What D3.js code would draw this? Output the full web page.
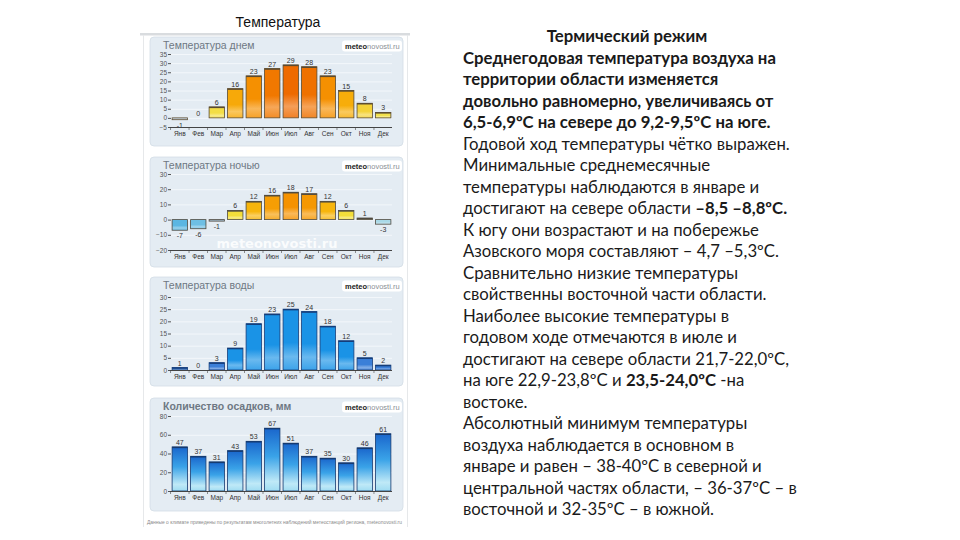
<!DOCTYPE html>
<html><head><meta charset="utf-8">
<script src="https://cdn.jsdelivr.net/npm/d3@7"></script>
<style>body{margin:0;background:#fff}svg{display:block}</style>
</head><body>
<script>
// ---------- DATA ----------
const months = ["Янв","Фев","Мар","Апр","Май","Июн","Июл","Авг","Сен","Окт","Ноя","Дек"];
const dayTemp   = [-1, 0, 6, 16, 23, 27, 29, 28, 23, 15, 8, 3];
const nightTemp = [-7, -6, -1, 6, 12, 16, 18, 17, 12, 6, 1, -3];
const waterTemp = [1, 0, 3, 9, 19, 23, 25, 24, 18, 12, 5, 2];
const precip    = [47, 37, 31, 43, 53, 67, 51, 37, 35, 30, 46, 61];
const dayTicks   = [-5, 0, 5, 10, 15, 20, 25, 30, 35];
const nightTicks = [-20, -10, 0, 10, 20, 30];
const waterTicks = [0, 5, 10, 15, 20, 25, 30];
const precipTicks = [0, 20, 40, 60, 80];
const panelTitles = ["Температура днем","Температура ночью","Температура воды","Количество осадков, мм"];
const leftHeading = "Температура";
const captionText = "Данные о климате приведены по результатам многолетних наблюдений метеостанций региона, meteonovosti.ru";
const textLines = [
 [["Термический режим",1]],
 [["Среднегодовая температура воздуха на",1]],
 [["территории области изменяется",1]],
 [["довольно равномерно, увеличиваясь от",1]],
 [["6,5-6,9ºС на севере до 9,2-9,5ºС на юге.",1]],
 [["Годовой ход температуры чётко выражен.",0]],
 [["Минимальные среднемесячные",0]],
 [["температуры наблюдаются в январе и",0]],
 [["достигают на севере области ",0],["–8,5 –8,8ºС.",1]],
 [["К югу они возрастают и на побережье",0]],
 [["Азовского моря составляют – 4,7 –5,3ºС.",0]],
 [["Сравнительно низкие температуры",0]],
 [["свойственны восточной части области.",0]],
 [["Наиболее высокие температуры в",0]],
 [["годовом ходе отмечаются в июле и",0]],
 [["достигают на севере области 21,7-22,0ºС,",0]],
 [["на юге 22,9-23,8ºС и ",0],["23,5-24,0ºС",1],[" -на",0]],
 [["востоке.",0]],
 [["Абсолютный минимум температуры",0]],
 [["воздуха наблюдается в основном в",0]],
 [["январе и равен – 38-40ºС в северной и",0]],
 [["центральной частях области, – 36-37ºС – в",0]],
 [["восточной и 32-35ºС – в южной.",0]]
];

// ---------- SETUP ----------
const W = 960, H = 540;
const svg = d3.select("body").append("svg").attr("width", W).attr("height", H);
svg.append("rect").attr("width", W).attr("height", H).attr("fill", "#fff");
const defs = svg.append("defs");

// left image frame
svg.append("text").attr("x", 278).attr("y", 27).attr("text-anchor", "middle")
  .attr("font-family", "Liberation Sans, Arial, sans-serif").attr("font-size", 14)
  .attr("fill", "#111").text(leftHeading);
svg.append("rect").attr("x", 140).attr("y", 33).attr("width", 270).attr("height", 2.5).attr("fill", "#d9dcdf");
svg.append("line").attr("x1", 143.5).attr("x2", 143.5).attr("y1", 35).attr("y2", 527).attr("stroke", "#e6e8ea");
svg.append("line").attr("x1", 407.5).attr("x2", 407.5).attr("y1", 35).attr("y2", 527).attr("stroke", "#e6e8ea");

const dayColor = d3.scaleLinear().domain([5, 15, 24, 29]).range(["#f3e24c", "#f7ad0a", "#f58c00", "#ee6a00"]).clamp(true);
const nightPos = d3.scaleLinear().domain([1, 6, 12, 18]).range(["#f1e9a0", "#f3de3a", "#f7b50c", "#f59200"]).clamp(true);
const nightNeg = d3.scaleLinear().domain([-1, -3, -7]).range(["#9fb9cc", "#a9d9e8", "#5ab6e2"]).clamp(true);
const waterColor = d => d <= 6 ? "#3b7fd8" : "#1a93e6";
const precipColor = () => "#1f78d8";

let gid = 0;
function panel(cfg) {
  const g = svg.append("g");
  g.append("rect").attr("x", 150).attr("y", cfg.top).attr("width", 253).attr("height", cfg.bottom - cfg.top)
    .attr("rx", 4).attr("fill", "#e4ecf3").attr("stroke", "#d3dde6").attr("stroke-width", 0.8);
  // title
  g.append("text").attr("x", 163).attr("y", cfg.top + 12).attr("font-family", "Liberation Sans, Arial, sans-serif")
    .attr("font-size", 10.5).attr("fill", "#6e7883").attr("font-weight", cfg.boldTitle ? "bold" : "normal").text(cfg.title);
  // logo
  g.append("rect").attr("x", 342).attr("y", cfg.top + 3.5).attr("width", 60).attr("height", 11).attr("rx", 3).attr("fill", "#fff");
  const lt = g.append("text").attr("x", 345).attr("y", cfg.top + 11.5).attr("font-family", "Liberation Sans, Arial, sans-serif").attr("font-size", 7.5);
  lt.append("tspan").attr("font-weight", "bold").attr("fill", "#222").text("meteo");
  lt.append("tspan").attr("fill", "#8a8f95").text("novosti.ru");

  const x = d3.scaleBand().domain(months).range([171, 392]).paddingInner(0.17).paddingOuter(0.06);
  const y = d3.scaleLinear().domain(cfg.domain).range([cfg.yBottom, cfg.yTop]);

  // grid
  g.selectAll("line.grid").data(cfg.ticks).join("line").attr("class", "grid")
    .attr("x1", 171).attr("x2", 392).attr("y1", d => y(d) + 0.5).attr("y2", d => y(d) + 0.5)
    .attr("stroke", "#f3f7fb").attr("stroke-width", 1);

  // watermark
  if (cfg.watermark) {
    g.append("text").attr("x", 277).attr("y", cfg.watermark).attr("text-anchor", "middle")
      .attr("font-family", "DejaVu Sans, sans-serif").attr("font-weight", "bold").attr("font-size", 13)
      .attr("fill", "#ffffff").attr("opacity", cfg.wmOpacity || 0.85).text("meteonovosti.ru");
  }

  // y axis
  const ax = g.append("g").attr("transform", "translate(171,0)")
    .call(d3.axisLeft(y).tickValues(cfg.ticks).tickSize(3).tickPadding(1));
  ax.select(".domain").remove();
  ax.selectAll("line").attr("stroke", "#555");
  ax.selectAll("text").attr("font-family", "Liberation Sans, Arial, sans-serif").attr("font-size", 6.5).attr("fill", "#555");

  // bars
  const data = cfg.values.map((v, i) => ({ m: months[i], v }));
  data.forEach(d => {
    const col = cfg.color(d.v);
    const id = "g" + (gid++);
    const lg = defs.append("linearGradient").attr("id", id).attr("x1", 0).attr("x2", 0).attr("y1", 0).attr("y2", 1);
    if (cfg.precipStyle) {
      lg.append("stop").attr("offset", "0%").attr("stop-color", "#1a66cc");
      lg.append("stop").attr("offset", "45%").attr("stop-color", "#3aa3e8");
      lg.append("stop").attr("offset", "85%").attr("stop-color", "#bfe9f7");
      lg.append("stop").attr("offset", "100%").attr("stop-color", "#9fdcf2");
    } else {
      lg.append("stop").attr("offset", "0%").attr("stop-color", col);
      lg.append("stop").attr("offset", "55%").attr("stop-color", col);
      lg.append("stop").attr("offset", "78%").attr("stop-color", d3.interpolateRgb(col, "#fff")(0.35));
      lg.append("stop").attr("offset", "100%").attr("stop-color", d3.interpolateRgb(col, "#fff")(0.15));
    }
    d.fill = "url(#" + id + ")";
  });
  g.selectAll("rect.bar").data(data.filter(d => d.v !== 0)).join("rect").attr("class", "bar")
    .attr("x", d => x(d.m)).attr("width", x.bandwidth())
    .attr("y", d => Math.min(y(d.v), y(0)))
    .attr("height", d => Math.max(1.5, Math.abs(y(d.v) - y(0))))
    .attr("fill", d => d.fill).attr("stroke", cfg.stroke).attr("stroke-width", 0.8);
  // top edge highlight
  g.selectAll("line.top").data(data.filter(d => d.v > 0)).join("line").attr("class", "top")
    .attr("x1", d => x(d.m)).attr("x2", d => x(d.m) + x.bandwidth())
    .attr("y1", d => y(d.v) + 0.5).attr("y2", d => y(d.v) + 0.5)
    .attr("stroke", cfg.stroke).attr("stroke-width", 1.4);

  // value labels
  g.selectAll("text.val").data(data).join("text").attr("class", "val")
    .attr("x", d => x(d.m) + x.bandwidth() / 2)
    .attr("y", d => d.v < 0 ? y(d.v) + 8 : y(d.v) - 2)
    .attr("text-anchor", "middle").attr("font-family", "Liberation Sans, Arial, sans-serif")
    .attr("font-size", 7).attr("fill", "#333").text(d => d.v);

  // x axis line
  g.append("line").attr("x1", 170).attr("x2", 392).attr("y1", cfg.yBottom + 0.5).attr("y2", cfg.yBottom + 0.5)
    .attr("stroke", "#444").attr("stroke-width", 1.2);
  g.selectAll("line.xt").data(months).join("line").attr("class", "xt")
    .attr("x1", d => x(d) - x.step() * x.paddingInner() / 2).attr("x2", d => x(d) - x.step() * x.paddingInner() / 2)
    .attr("y1", cfg.yBottom).attr("y2", cfg.yBottom + 3).attr("stroke", "#444").attr("stroke-width", 0.6);
  g.selectAll("text.mon").data(months).join("text").attr("class", "mon")
    .attr("x", d => x(d) + x.bandwidth() / 2).attr("y", cfg.yBottom + 9)
    .attr("text-anchor", "middle").attr("font-family", "Liberation Sans, Arial, sans-serif")
    .attr("font-size", 6.5).attr("fill", "#333").text(d => d);
}

panel({ top: 37, bottom: 146, title: panelTitles[0], values: dayTemp, domain: [-5, 35], ticks: dayTicks,
  yBottom: 127, yTop: 54, color: v => v <= 0 ? "#c9d9e6" : dayColor(v), stroke: "#5a4a30" });
panel({ top: 157, bottom: 267, title: panelTitles[1], values: nightTemp, domain: [-20, 30], ticks: nightTicks,
  yBottom: 250, yTop: 174, color: v => v < 0 ? nightNeg(v) : nightPos(v), stroke: "#4f4a40", watermark: 248 });
panel({ top: 277, bottom: 386, title: panelTitles[2], values: waterTemp, domain: [0, 30], ticks: waterTicks,
  yBottom: 370, yTop: 297, color: waterColor, stroke: "#143d7a" });
panel({ top: 398, bottom: 511, title: panelTitles[3], values: precip, domain: [0, 80], ticks: precipTicks,
  yBottom: 491, yTop: 416, color: precipColor, stroke: "#153a70", precipStyle: true, boldTitle: true, watermark: 484, wmOpacity: 0.35 });

// caption under image
svg.append("text").attr("x", 147).attr("y", 524).attr("font-family", "Liberation Sans, Arial, sans-serif")
  .attr("font-size", 4.5).attr("fill", "#8a8a8a").attr("textLength", 255).attr("lengthAdjust", "spacingAndGlyphs").text(captionText);

// ---------- RIGHT TEXT ----------
const fontFam = "Lato, Open Sans, sans-serif";
const tg = svg.append("g").attr("font-family", fontFam).attr("fill", "#1a1a1a");
function drawText(fs) {
  tg.selectAll("*").remove();
  textLines.forEach((segs, i) => {
    const t = tg.append("text").attr("y", 42 + i * 21.5).attr("font-size", fs);
    if (i === 0) t.attr("x", 627).attr("text-anchor", "middle");
    else t.attr("x", 463);
    segs.forEach(s => t.append("tspan").attr("font-weight", s[1] ? "bold" : "normal").text(s[0]));
  });
}
drawText(16);
// fit font size so that "Годовой ход..." line spans ~327 px like the reference
const ref = tg.selectAll("text").nodes()[5].getComputedTextLength();
drawText(16 * 327 / ref);
</script>
</body></html>
